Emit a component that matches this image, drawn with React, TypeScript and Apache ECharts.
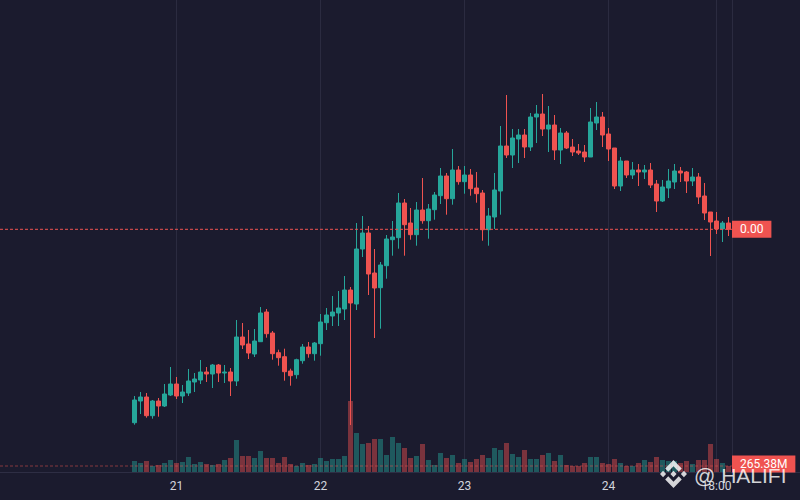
import React, { useEffect, useRef } from "react";
import * as echarts from "echarts";

// hourly candles from the 20th 17:00 to the 24th 20:00
const categories: string[] = [];
for (let d = 20; d <= 24; d++) {
  for (let h = 0; h < 24; h++) {
    if (d === 20 && h < 17) continue;
    if (d === 24 && h > 20) continue;
    categories.push(`${d} ${String(h).padStart(2, "0")}:00`);
  }
}

const xTickLabels: Record<string, string> = {
  "21 00:00": "21",
  "22 00:00": "22",
  "23 00:00": "23",
  "24 00:00": "24",
  "24 18:00": "18:00",
};

const opens = [
  49.3, 71, 75, 56.3, 71, 66, 77, 88, 76, 79,
  90, 92, 100, 98, 107, 99, 100, 91, 135, 128,
  118, 130.3, 160, 139, 119.3, 115.3, 101, 97.3, 111.3, 125,
  118.3, 128.3, 149.3, 156, 159, 163, 182, 168, 223, 239,
  199, 184.3, 206.3, 232.3, 234.3, 269, 249, 237.3, 262, 251.3,
  262.3, 276.3, 296, 273.3, 302, 290.3, 297, 284, 279, 242.3,
  255, 281, 326, 317, 333, 337, 325, 355, 358, 343,
  347, 322, 339, 325, 321, 320, 315, 349, 355, 338,
  324, 286, 311, 297, 302, 300, 302, 288, 271, 284,
  290, 301, 300, 291, 295, 276, 260, 251, 243, 249,
];
const closes = [
  72, 75, 56.3, 71, 66, 78, 88, 76, 80, 91,
  93, 100, 98, 107, 99, 100, 91, 135, 127, 119,
  131, 159, 138.3, 118.3, 114.3, 100.3, 96.3, 112.3, 125, 118.3,
  129, 150, 157, 160, 164, 182, 169, 223, 239, 198,
  184, 207, 233, 235, 269, 247.3, 237.3, 262, 251.3, 263,
  277, 296, 273.3, 302, 290.3, 297, 283.3, 278.3, 242.3, 256,
  282, 326, 317, 334, 337, 325, 355, 358, 343, 347,
  322, 339, 324, 320, 319, 315, 350, 355, 337, 323,
  286, 311, 297, 302, 300, 302, 287, 271, 285, 291,
  301, 299, 291, 295, 275, 259, 250, 243, 249, 242.7,
];
const lows = [
  47.3, 58, 54.3, 53.3, 55.3, 65, 76, 73, 69, 76,
  80, 88, 90, 84, 90, 89, 76, 86, 123, 113,
  115, 130, 134.3, 112.3, 106.3, 91.3, 86.3, 93.3, 108.3, 114.3,
  111.3, 116.3, 142, 146, 146, 152, 47, 162, 215, 177,
  134, 143.3, 193.3, 216.3, 223.3, 216.3, 232.3, 226.3, 248.3, 233.3,
  252.3, 268, 257.3, 267.3, 287.3, 278.3, 276.3, 269.3, 231.3, 226.3,
  243, 257.3, 314, 304, 309, 314, 321, 329, 336, 320,
  312, 308, 323, 316, 317, 310, 315, 342, 325, 311,
  283, 281, 294, 293, 286, 293, 284, 260, 270, 274,
  283, 290, 279, 286, 268, 252, 216, 238, 230, 236,
];
const highs = [
  76, 80, 79, 72, 74, 88, 105, 95, 87, 103,
  99, 112, 105, 108, 108, 107, 104, 152, 149, 142,
  143, 165, 163, 141, 122.3, 123.3, 103.3, 113.3, 128, 130,
  130, 158, 164, 176, 181, 196, 185, 249, 256, 246,
  223, 210, 237, 251, 279, 273, 264, 270, 294, 268,
  280, 304, 299, 323, 306, 306, 303, 300, 282, 264,
  299, 346, 377, 343, 343, 343, 359, 367, 378, 366,
  357, 344, 341, 333, 328, 327, 364, 370, 360, 344,
  324, 315, 311, 310, 308, 307, 309, 292, 292, 303,
  308, 305, 301, 304, 299, 289, 260, 260, 251, 255,
];
// volume in millions
const volumes = [
  487, 398, 487, 265, 310, 398, 531, 398, 442, 663,
  354, 442, 354, 310, 354, 531, 619, 1415, 708, 708,
  619, 929, 619, 619, 398, 663, 354, 265, 398, 310,
  354, 619, 487, 575, 575, 708, 3140, 1725, 1238, 1283,
  1460, 1460, 752, 1548, 1283, 1062, 619, 708, 1238, 531,
  310, 840, 619, 752, 398, 575, 442, 575, 752, 619,
  1062, 973, 1283, 796, 663, 973, 575, 575, 752, 840,
  487, 752, 310, 265, 265, 398, 663, 663, 398, 354,
  575, 398, 265, 265, 398, 531, 442, 663, 531, 487,
  487, 398, 487, 354, 531, 531, 1238, 575, 398, 265.38,
];

const priceLabel = "0.00";

const BG = "#1b1b2e";
const UP = "#26a69a";
const DOWN = "#ef5350";
const GRID_LINE = "#2b2b40";
const PRICE_SCALE_X = 732;

const BNB_PATH =
  "M38.73,53.2 L63.3,28.63 L87.89,53.22 L102.19,38.92 L63.3,0 L24.42,38.9 Z M0,63.31 L14.3,49 L28.6,63.31 L14.3,77.61 Z M38.73,73.41 L63.3,97.98 L87.89,73.4 L102.2,87.69 L63.3,126.61 L24.42,87.7 L24.39,87.68 Z M98,63.31 L112.3,49 L126.6,63.31 L112.3,77.61 Z M77.83,63.3 L63.3,48.76 L52.55,59.51 L51.31,60.75 L48.76,63.3 L63.3,77.83 L77.84,63.31 Z";

echarts.graphic.registerShape("bnbLogo", echarts.graphic.extendPath(BNB_PATH, {}) as any);

function buildOption(): any {
  const candleData = categories.map((_, i) => [opens[i], closes[i], lows[i], highs[i]]);
  const volData = categories.map((_, i) => ({
    value: volumes[i],
    itemStyle: {
      color: closes[i] >= opens[i] ? "rgba(38,166,154,0.45)" : "rgba(239,83,80,0.45)",
    },
  }));
  return {
    animation: false,
    backgroundColor: BG,
    grid: [
      { left: 131.5, right: 68.5, top: 0, bottom: 28 },
      { left: 131.5, right: 68.5, top: 372, bottom: 28 },
    ],
    xAxis: [
      {
        type: "category",
        gridIndex: 0,
        data: categories,
        boundaryGap: true,
        show: false,
      },
      {
        type: "category",
        gridIndex: 1,
        data: categories,
        boundaryGap: true,
        axisLine: { show: false },
        axisTick: { show: false },
        splitLine: { show: false },
        axisLabel: {
          interval: (_i: number, v: string) => v in xTickLabels,
          formatter: (v: string) => xTickLabels[v] ?? "",
          color: "#d1d4dc",
          fontSize: 12,
          fontFamily: "Roboto, sans-serif",
          margin: 8,
        },
      },
    ],
    yAxis: [
      { type: "value", gridIndex: 0, min: 0, max: 472, show: false },
      { type: "value", gridIndex: 1, min: 0, max: 4423, show: false },
    ],
    series: [
      {
        type: "bar",
        xAxisIndex: 1,
        yAxisIndex: 1,
        data: volData,
        barWidth: 5,
        z: 1,
      },
      {
        type: "candlestick",
        xAxisIndex: 0,
        yAxisIndex: 0,
        data: candleData,
        barWidth: 4,
        z: 3,
        itemStyle: {
          color: UP,
          color0: DOWN,
          borderColor: UP,
          borderColor0: DOWN,
          borderWidth: 1,
        },
      },
    ],
  };
}

function buildGraphics(chart: any): any[] {
  const els: any[] = [];
  const lastCat = categories[categories.length - 1];
  const bottomY = chart.convertToPixel({ xAxisIndex: 1, yAxisIndex: 1 }, [lastCat, 0])[1];

  // vertical grid lines at labelled times
  Object.keys(xTickLabels).forEach((cat) => {
    const x = chart.convertToPixel({ xAxisIndex: 0, yAxisIndex: 0 }, [cat, 0])[0];
    const xx = Math.floor(x) + 0.5;
    els.push({
      type: "line",
      z: 0,
      silent: true,
      shape: { x1: xx, y1: 0, x2: xx, y2: bottomY },
      style: { stroke: GRID_LINE, lineWidth: 1 },
    });
  });
  // price scale border
  els.push({
    type: "line",
    z: 0,
    silent: true,
    shape: { x1: PRICE_SCALE_X + 0.5, y1: 0, x2: PRICE_SCALE_X + 0.5, y2: bottomY },
    style: { stroke: GRID_LINE, lineWidth: 1 },
  });
  // time scale border
  els.push({
    type: "line",
    z: 0,
    silent: true,
    shape: { x1: 0, y1: Math.round(bottomY) + 0.5, x2: 800, y2: Math.round(bottomY) + 0.5 },
    style: { stroke: "#2e2e44", lineWidth: 1 },
  });

  // last price line
  const lastClose = closes[closes.length - 1];
  const py = chart.convertToPixel({ xAxisIndex: 0, yAxisIndex: 0 }, [lastCat, lastClose])[1];
  els.push({
    type: "line",
    z: 5,
    silent: true,
    shape: { x1: 0, y1: py, x2: PRICE_SCALE_X, y2: py },
    style: { stroke: DOWN, lineWidth: 1, lineDash: [3, 2] },
  });
  els.push({
    type: "text",
    z: 10,
    x: PRICE_SCALE_X,
    y: py,
    style: {
      text: priceLabel,
      fill: "#ffffff",
      font: "12px Roboto, sans-serif",
      backgroundColor: DOWN,
      padding: [3, 8, 2, 8],
      align: "left",
      verticalAlign: "middle",
    },
  });

  // last volume line
  const lastVol = volumes[volumes.length - 1];
  const vy = chart.convertToPixel({ xAxisIndex: 1, yAxisIndex: 1 }, [lastCat, lastVol])[1];
  els.push({
    type: "line",
    z: 5,
    silent: true,
    shape: { x1: 0, y1: vy, x2: PRICE_SCALE_X, y2: vy },
    style: { stroke: "rgba(239,83,80,0.5)", lineWidth: 1, lineDash: [3, 2] },
  });
  els.push({
    type: "text",
    z: 10,
    x: PRICE_SCALE_X,
    y: vy - 2,
    style: {
      text: `${lastVol.toFixed(2)}M`,
      fill: "#ffffff",
      font: "12px Roboto, sans-serif",
      backgroundColor: DOWN,
      padding: [3, 8, 2, 8],
      align: "left",
      verticalAlign: "middle",
    },
  });

  // watermark
  els.push({
    type: "bnbLogo",
    z: 20,
    silent: true,
    x: 660,
    y: 460,
    scaleX: 27 / 126.61,
    scaleY: 28 / 126.61,
    style: { fill: "rgba(255,255,255,0.82)" },
  });
  els.push({
    type: "text",
    z: 20,
    silent: true,
    x: 694,
    y: 475.5,
    style: {
      text: "@ HALIFI",
      fill: "rgba(255,255,255,0.82)",
      font: '21px "Liberation Sans", Arial, sans-serif',
      align: "left",
      verticalAlign: "middle",
    },
  });
  return els;
}

export default function App() {
  const ref = useRef<HTMLDivElement>(null);
  useEffect(() => {
    if (!ref.current) return;
    document.body.style.margin = "0";
    const chart = echarts.init(ref.current, null, { renderer: "svg" });
    chart.setOption(buildOption());
    chart.setOption({ graphic: buildGraphics(chart) });
    return () => chart.dispose();
  }, []);
  return (
    <div
      ref={ref}
      style={{ position: "fixed", left: 0, top: 0, width: 800, height: 500 }}
    />
  );
}
